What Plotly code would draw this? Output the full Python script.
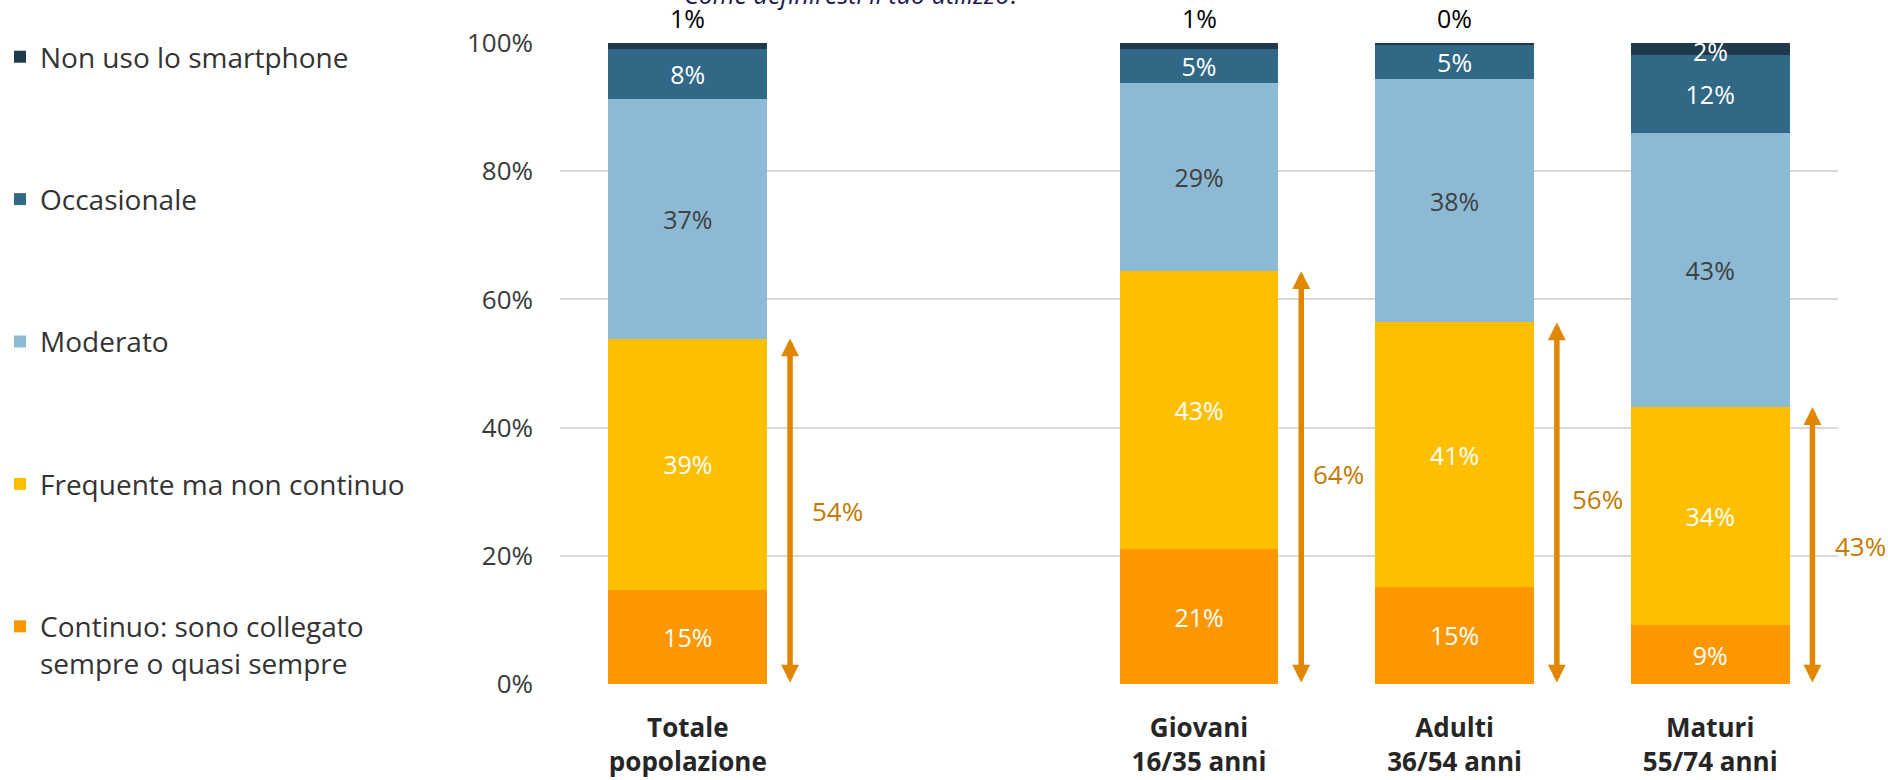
import plotly.graph_objects as go

# ---------------- data ----------------
categories = ["Totale<br>popolazione", "Giovani<br>16/35 anni", "Adulti<br>36/54 anni", "Maturi<br>55/74 anni"]
series_names = ["Continuo: sono collegato<br>sempre o quasi sempre", "Frequente ma non continuo",
                "Moderato", "Occasionale", "Non uso lo smartphone"]
continuo = [14.7, 21.0, 15.2, 9.2]
frequente = [39.2, 43.4, 41.2, 34.0]
moderato = [37.3, 29.4, 38.0, 42.7]
occasionale = [7.9, 5.3, 5.3, 12.2]
non_uso = [0.9, 0.9, 0.3, 1.9]
y_ticks = [0, 20, 40, 60, 80, 100]
title_text = "Come definiresti il tuo utilizzo?"

# ---------------- layout / style ----------------
x_pos = [0, 2, 3, 4]          # slot 1 left empty
BAR_W = 0.622
ARROW_OFF = 0.40
label_xshift = [20, 10, 13, 21]
label_yshift = [0, 4, 4, 0]
FONT = "Open Sans"
colors = ["#FD9700", "#FDBF00", "#8CBAD4", "#316886", "#1E3A4C"]
text_colors = ["white", "white", "#404040", "white", "white"]

fig = go.Figure()
series = [continuo, frequente, moderato, occasionale, non_uso]
n = len(series)
for i, (name, vals) in enumerate(zip(series_names, series)):
    is_top = (i == n - 1)
    fig.add_trace(go.Bar(
        x=x_pos, y=vals, name=name, width=BAR_W,
        marker=dict(color=colors[i], line=dict(width=0)),
        texttemplate=None if is_top else "%{y:.0f}%",
        textposition="none" if is_top else "inside",
        insidetextanchor="middle", textangle=0, constraintext="none",
        insidetextfont=dict(family=FONT, size=25, color=text_colors[i]),
        legendgroup=f"g{i}", legendrank=n - i, hoverinfo="skip",
    ))

annotations = []
for k, xp in enumerate(x_pos):
    top = continuo[k] + frequente[k]
    ax = xp + ARROW_OFF
    annotations.append(dict(
        x=ax, y=top, ax=ax, ay=0, xref="x", yref="y", axref="x", ayref="y",
        text="", showarrow=True, arrowhead=2, startarrowhead=2, arrowside="end+start",
        arrowwidth=5.5, arrowsize=0.65, startarrowsize=0.65, arrowcolor="#E08600",
    ))
    annotations.append(dict(
        x=ax, y=top / 2, xref="x", yref="y", text=f"{round(top)}%", showarrow=False,
        xanchor="left", yanchor="middle", xshift=label_xshift[k], yshift=label_yshift[k],
        font=dict(family=FONT, size=26, color="#C47A00"),
    ))
    v = non_uso[k]
    if v < 1.5:
        annotations.append(dict(
            x=xp, y=100, xref="x", yref="y", text=f"{v:.0f}%", showarrow=False,
            xanchor="center", yanchor="bottom", yshift=6,
            font=dict(family=FONT, size=25, color="#000000"),
        ))
    else:
        annotations.append(dict(
            x=xp, y=100 - v / 2, xref="x", yref="y", text=f"{v:.0f}%", showarrow=False,
            xanchor="center", yanchor="middle", yshift=-2,
            font=dict(family=FONT, size=25, color="white"),
        ))

annotations.append(dict(
    x=(853 - 560) / 1278, y=(684 + 6) / 641, xref="paper", yref="paper",
    text=title_text, showarrow=False, xanchor="center", yanchor="middle",
    font=dict(family=FONT, size=25, color="#201850", style="italic"),
))

fig.update_layout(
    width=1888, height=780,
    margin=dict(l=560, r=50, t=43, b=96, autoexpand=False),
    barmode="stack",
    plot_bgcolor="white", paper_bgcolor="white",
    font=dict(family=FONT, size=25, color="#404040"),
    showlegend=True,
    legend=dict(
        x=0, xref="container", y=1 - 32 / 780, yref="container",
        xanchor="left", yanchor="top",
        traceorder="grouped", tracegroupgap=103, valign="top",
        maxheight=780,
        font=dict(family=FONT, size=28, color="#333333"),
        bgcolor="rgba(0,0,0,0)",
    ),
    xaxis=dict(
        range=[-0.5, 4.5], tickvals=x_pos, ticktext=categories,
        showgrid=False, zeroline=False, showline=False, ticks="",
        tickfont=dict(family=FONT, size=26, color="#262626", weight="bold"),
        ticklabelstandoff=26, fixedrange=True,
    ),
    yaxis=dict(
        range=[0, 100], tickvals=y_ticks, ticktext=[f"{v}%" for v in y_ticks],
        showgrid=True, gridcolor="#D9D9D9", gridwidth=2,
        zeroline=False, showline=False, ticks="",
        tickfont=dict(family=FONT, size=26, color="#3A3A3A"),
        ticklabelstandoff=26, fixedrange=True,
    ),
    annotations=annotations,
)

fig.write_html("out.html")
